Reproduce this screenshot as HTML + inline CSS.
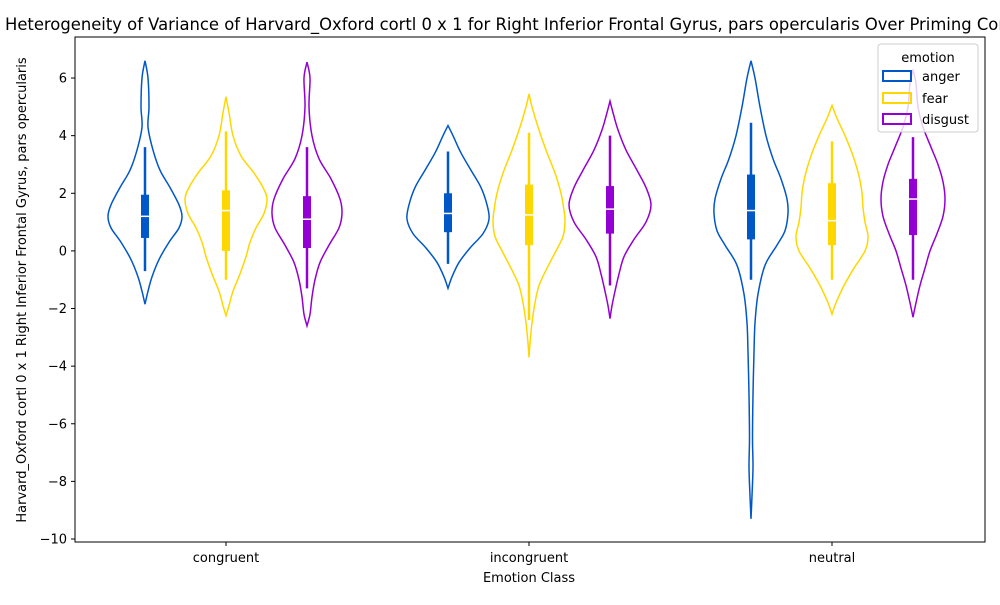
<!DOCTYPE html>
<html><head><meta charset="utf-8"><style>
body{margin:0;background:#fff;font-family:"Liberation Sans","DejaVu Sans",sans-serif}
svg text{font-family:"DejaVu Sans","Liberation Sans",sans-serif}
</style></head><body>
<svg id="c" width="1000" height="600" viewBox="0 0 1000 600" xmlns="http://www.w3.org/2000/svg">
<text x="5" y="30" font-size="16.4">Heterogeneity of Variance of Harvard_Oxford cortl 0 x 1 for Right Inferior Frontal Gyrus, pars opercularis Over Priming Condition</text>
<rect x="75" y="37" width="910" height="505" fill="none" stroke="#000" stroke-width="1"/>
<g id="marks"></g>
<g id="axes"></g>
<text x="529" y="582" font-size="13" text-anchor="middle">Emotion Class</text>
<text transform="translate(26,290) rotate(-90)" font-size="13" text-anchor="middle">Harvard_Oxford cortl 0 x 1 Right Inferior Frontal Gyrus, pars opercularis</text>
<g>
<rect x="878" y="44" width="100" height="88" rx="3" fill="#fff" fill-opacity="0.8" stroke="#ccc"/>
<text x="928" y="62" font-size="13" text-anchor="middle">emotion</text>
<g><rect x="883" y="71" width="28" height="10" fill="none" stroke="#0057c8" stroke-width="2"/><text x="922" y="81" font-size="13">anger</text></g>
<g><rect x="883" y="93" width="28" height="10" fill="none" stroke="#ffd700" stroke-width="2"/><text x="922" y="103" font-size="13">fear</text></g>
<g><rect x="883" y="114" width="28" height="10" fill="none" stroke="#9400d3" stroke-width="2"/><text x="922" y="124" font-size="13">disgust</text></g>
</g>
</svg>
<script>
const categories=["congruent","incongruent","neutral"];
const emotions=["anger","fear","disgust"];
const colors=["#0057c8","#ffd700","#9400d3"];
const yTicks=[6,4,2,0,-2,-4,-6,-8,-10];
// density profiles: values and half-widths (density), per [category][emotion]
const profVals=[
[[6.6,6.0,5.0,4.3,3.5,2.8,2.2,1.6,1.2,0.8,0.3,-0.3,-0.9,-1.4,-1.85],
 [5.35,4.8,4.0,3.3,2.7,2.2,1.8,1.3,0.8,0.3,-0.2,-0.8,-1.4,-1.9,-2.25],
 [6.55,6.0,5.0,4.0,3.2,2.5,1.8,1.3,0.8,0.2,-0.4,-1.0,-1.6,-2.2,-2.6]],
[[4.35,4.0,3.4,2.8,2.2,1.6,1.1,0.6,0.1,-0.4,-0.9,-1.3],
 [5.45,5.0,4.3,3.5,2.7,2.0,1.4,1.0,0.5,0,-0.6,-1.2,-1.8,-2.5,-3.2,-3.7],
 [5.2,4.8,4.2,3.5,2.8,2.2,1.6,1.0,0.4,-0.2,-0.8,-1.4,-1.9,-2.35]],
[[6.6,6.0,5.0,4.0,3.2,2.5,1.8,1.3,0.7,0.2,-0.5,-1.5,-2.5,-3.5,-5,-6.5,-7.5,-8.5,-9.3],
 [5.05,4.6,4.0,3.3,2.6,2.0,1.5,1.0,0.5,0,-0.6,-1.2,-1.8,-2.2],
 [6.3,5.8,5.0,4.3,3.6,3.0,2.4,1.8,1.2,0.6,0,-0.6,-1.2,-1.8,-2.3]]];
const profDens=[
[[0,3,4,3,8,15,25,34,37,34,24,14,7,3,0],
 [0,3,7,15,28,37,41,38,30,24,20,14,7,3,0],
 [0,3,2,5,12,24,33,35,32,22,13,8,5,3,0]],
[[0,5,13,23,33,39,41,35,22,11,4,0],
 [0,3,9,17,26,32,35,36,34,27,18,10,6,3,1,0],
 [0,3,8,16,27,36,41,36,24,14,9,5,2,0]],
[[0,4,9,15,22,30,36,37,34,26,14,7,4,3,2,1.5,2,1,0],
 [0,5,13,21,27,30,31,33,36,33,22,12,4,0],
 [0,3,5,10,18,25,30,32,30,24,17,12,7,3,0]]];
// box stats [whiskerLow, q1, median, q3, whiskerHigh]
const boxStats=[
[[-0.7,0.45,1.2,1.95,3.6],[-1.0,0,1.4,2.1,4.15],[-1.3,0.1,1.1,1.9,3.6]],
[[-0.45,0.65,1.3,2.0,3.45],[-2.4,0.2,1.25,2.3,4.1],[-1.2,0.6,1.45,2.25,4.0]],
[[-1.0,0.4,1.4,2.65,4.45],[-1.0,0.2,1.05,2.35,3.8],[-1.0,0.55,1.8,2.5,3.95]]];

const NS="http://www.w3.org/2000/svg";
const y=v=>250.9-v*28.81;
const xc=i=>226+i*303;
const off=j=>(j-1)*81;
const dscale=1;
const marks=document.getElementById('marks'),axes=document.getElementById('axes');
function mk(t,a,p){const e=document.createElementNS(NS,t);for(const k in a)e.setAttribute(k,a[k]);p.appendChild(e);return e;}
function spline(pts){let d="M"+pts[0][0]+","+pts[0][1];
 for(let i=0;i<pts.length-1;i++){const p0=pts[Math.max(0,i-1)],p1=pts[i],p2=pts[i+1],p3=pts[Math.min(pts.length-1,i+2)];
  d+=" C"+(p1[0]+(p2[0]-p0[0])/6)+","+(p1[1]+(p2[1]-p0[1])/6)+" "+(p2[0]-(p3[0]-p1[0])/6)+","+(p2[1]-(p3[1]-p1[1])/6)+" "+p2[0]+","+p2[1];}
 return d;}
categories.forEach((c,i)=>{
 emotions.forEach((e,j)=>{
  const cx=xc(i)+off(j),vs=profVals[i][j],ds=profDens[i][j];
  const right=vs.map((v,k)=>[cx+ds[k]*dscale,y(v)]);
  const left=vs.map((v,k)=>[cx-ds[k]*dscale,y(v)]).reverse();
  const p=mk('path',{d:spline(right)+" L"+left[0][0]+","+left[0][1]+spline(left).replace(/^M[^ ]+/,"")+"Z",fill:"none",stroke:colors[j],"stroke-width":1.5},marks);
  
  
  const b=boxStats[i][j];
  const w=mk('line',{x1:cx,x2:cx,y1:y(b[0]),y2:y(b[4]),stroke:colors[j],"stroke-width":2.5},marks);
  
  
  const r=mk('rect',{x:cx-4,width:8,y:y(b[3]),height:y(b[1])-y(b[3]),fill:colors[j]},marks);
  
  
  const m=mk('line',{x1:cx-4,x2:cx+4,y1:y(b[2]),y2:y(b[2]),stroke:"#fff","stroke-width":1.5},marks);
  
  
 });
 mk('line',{x1:xc(i),x2:xc(i),y1:542,y2:546,stroke:"#000"},axes);
 const t=mk('text',{x:xc(i),y:562,"font-size":13,"text-anchor":"middle"},axes);t.textContent=c;
 
 
});
yTicks.forEach(v=>{
 mk('line',{x1:71,x2:75,y1:y(v),y2:y(v),stroke:"#000"},axes);
 const t=mk('text',{x:67,y:y(v)+4.5,"font-size":13,"text-anchor":"end"},axes);t.textContent=v<0?"\u2212"+(-v):v;
 
 
});
</script>
</body></html>
